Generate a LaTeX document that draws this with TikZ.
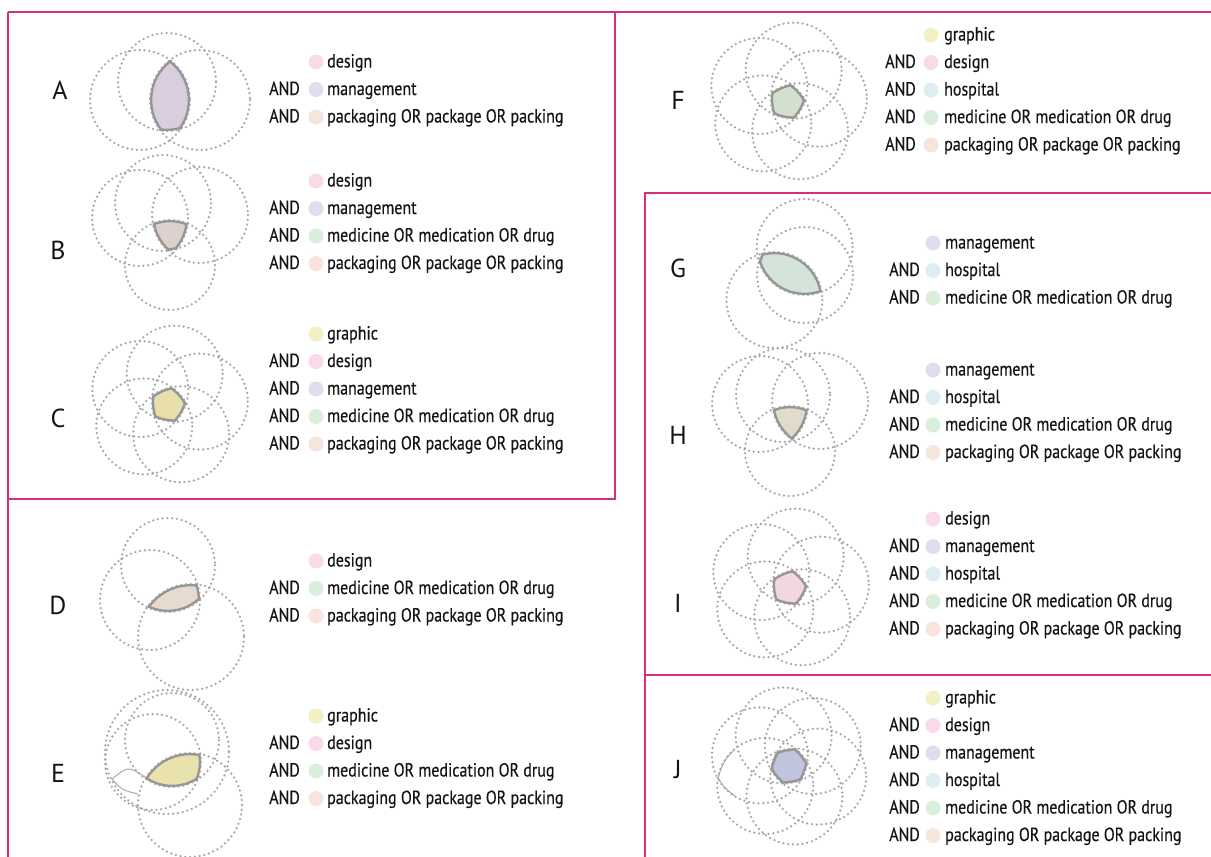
\documentclass[tikz,border=0pt]{standalone}
\usepackage{fontspec}
\setmainfont{PT Sans}
\newfontfamily\condfont{PT Sans}[FakeStretch=0.84,FakeBold=0.35]
\definecolor{framec}{RGB}{216,46,122}
\definecolor{dotgray}{RGB}{165,165,165}
\definecolor{reggray}{RGB}{150,150,150}
\definecolor{cgra}{RGB}{243,240,198}
\definecolor{cdes}{RGB}{248,218,232}
\definecolor{cman}{RGB}{222,222,240}
\definecolor{chos}{RGB}{220,238,242}
\definecolor{cmed}{RGB}{218,238,220}
\definecolor{cpac}{RGB}{247,228,220}
\definecolor{fA}{RGB}{216,206,222}
\definecolor{fB}{RGB}{222,208,205}
\definecolor{fC}{RGB}{232,223,172}
\definecolor{fD}{RGB}{232,218,206}
\definecolor{fE}{RGB}{234,226,172}
\definecolor{fF}{RGB}{212,224,206}
\definecolor{fG}{RGB}{212,228,216}
\definecolor{fH}{RGB}{224,219,202}
\definecolor{fI}{RGB}{242,214,226}
\definecolor{fJ}{RGB}{192,196,222}
\definecolor{txt}{RGB}{20,20,20}
\newcommand\venn[2]{%
  \foreach \vx/\vy/\vr in {#1}{\draw[dotc] (\vx,\vy) circle[radius=\vr];}
  \begin{scope}
    \foreach \vx/\vy/\vr in {#1}{\clip (\vx,\vy) circle[radius=\vr];}
    \fill[#2] (0,0) rectangle (1211,857);
    \foreach \vx/\vy/\vr in {#1}{\draw[regline] (\vx,\vy) circle[radius=\vr];}
  \end{scope}}
\newcommand\flower[6]{%
  \foreach \a in {#5}{\draw[dotc] ({#1+#3*cos(\a)},{#2-#3*sin(\a)}) circle[radius=#4];}
  \begin{scope}
    \foreach \a in {#5}{\clip ({#1+#3*cos(\a)},{#2-#3*sin(\a)}) circle[radius=#4];}
    \fill[#6] (#1-90,#2-90) rectangle (#1+90,#2+90);
    \foreach \a in {#5}{\draw[regline] ({#1+#3*cos(\a)},{#2-#3*sin(\a)}) circle[radius=#4];}
  \end{scope}}
\newcommand\termrows[6]{%
  \foreach \t/\c [count=\k from 0] in {#6}{
    \pgfmathsetmacro\yy{#5+27.5*\k}
    \fill[\c] (#3,\yy) circle[radius=7.5];
    \node[termtxt,anchor=base west] (#1-t\k) at (#4,\yy+5.5) {\t};
    \ifnum\k>0 \node[termtxt,anchor=base east] (#1-and\k) at (#2,\yy+5.5) {AND};\fi
  }}
\begin{document}
\begin{tikzpicture}[x=1pt,y=-1pt,
  dotc/.style={draw=dotgray,line width=2.5pt,line cap=round,dash pattern=on 0pt off 4.8pt},
  regline/.style={draw=reggray,line width=4.6pt},
  framel/.style={draw=framec,line width=2.7pt},
  thinlens/.style={draw=reggray!80,line width=1pt},
  termtxt/.style={font=\condfont\fontsize{19}{22}\selectfont,text=txt,inner sep=0pt},
  lbl/.style={font=\fontsize{26}{30}\selectfont,text=txt,inner sep=0pt}]
\fill[white] (0,0) rectangle (1211,857);
\useasboundingbox (0,0) rectangle (1211,857);
% frames
\draw[framel] (8,12) -- (1211,12);
\draw[framel] (8,12) -- (8,857);
\draw[framel] (615,12) -- (615,499) -- (8,499);
\draw[framel] (1211,193) -- (645,193) -- (645,857);
\draw[framel] (645,675) -- (1211,675);
% diagrams
\venn{140/100/50, 200/100/50, 167/82/49}{fA}
\venn{163/203/48, 140/218/48, 200/215/48, 170/265/45}{fB}
\flower{168}{405}{32}{48}{6,78,150,222,294}{fC}
\venn{168/565/47, 150/600/50, 191/637/53}{fD}
\venn{172/740/47, 153/762/48, 190/805/52, 167/752/62}{fE}
\draw[thinlens] (145,777) .. controls (128,766) .. (112,779) .. controls (122,790) .. (138,794);
\flower{787}{102}{32}{48}{6,78,150,222,294}{fF}
\venn{804.6/247/48, 774.4/300/48, 805/275/48}{fG}
\venn{783/395/47, 760/404/48, 820/401/48, 790/451/45}{fH}
\flower{789}{588}{32}{48}{6,78,150,222,294}{fI}
\flower{789}{766}{31}{48}{40,100,160,220,280,340}{fJ}
\begin{scope}
  \clip (700,740) rectangle (735,800);
  \clip (759.9,755.4) circle[radius=48];
  \clip (765.3,785.9) circle[radius=48];
  \draw[thinlens,line width=2pt] (759.9,755.4) circle[radius=48];
  \draw[thinlens,line width=2pt] (765.3,785.9) circle[radius=48];
\end{scope}
% labels
\node[lbl] (lA) at (60,90) {A};
\node[lbl] (lB) at (58,250) {B};
\node[lbl] (lC) at (58,418) {C};
\node[lbl] (lD) at (58,605) {D};
\node[lbl] (lE) at (58,773) {E};
\node[lbl] (lF) at (678,100) {F};
\node[lbl] (lG) at (678,268) {G};
\node[lbl] (lH) at (678,435) {H};
\node[lbl] (lI) at (678,603) {I};
\node[lbl] (lJ) at (678,770) {J};
% term lists
\termrows{A}{300}{316}{327}{62}{design/cdes, management/cman, packaging OR package OR packing/cpac}
\termrows{B}{300}{316}{327}{181}{design/cdes, management/cman, medicine OR medication OR drug/cmed, packaging OR package OR packing/cpac}
\termrows{C}{300}{316}{327}{334}{graphic/cgra, design/cdes, management/cman, medicine OR medication OR drug/cmed, packaging OR package OR packing/cpac}
\termrows{D}{300}{316}{327}{561}{design/cdes, medicine OR medication OR drug/cmed, packaging OR package OR packing/cpac}
\termrows{E}{300}{316}{327}{716}{graphic/cgra, design/cdes, medicine OR medication OR drug/cmed, packaging OR package OR packing/cpac}
\termrows{F}{916}{931}{944}{35}{graphic/cgra, design/cdes, hospital/chos, medicine OR medication OR drug/cmed, packaging OR package OR packing/cpac}
\termrows{G}{920}{933}{945}{243}{management/cman, hospital/chos, medicine OR medication OR drug/cmed}
\termrows{H}{920}{933}{945}{370}{management/cman, hospital/chos, medicine OR medication OR drug/cmed, packaging OR package OR packing/cpac}
\termrows{I}{920}{933}{945}{519}{design/cdes, management/cman, hospital/chos, medicine OR medication OR drug/cmed, packaging OR package OR packing/cpac}
\termrows{J}{920}{933}{945}{698}{graphic/cgra, design/cdes, management/cman, hospital/chos, medicine OR medication OR drug/cmed, packaging OR package OR packing/cpac}
\end{tikzpicture}
\end{document}
